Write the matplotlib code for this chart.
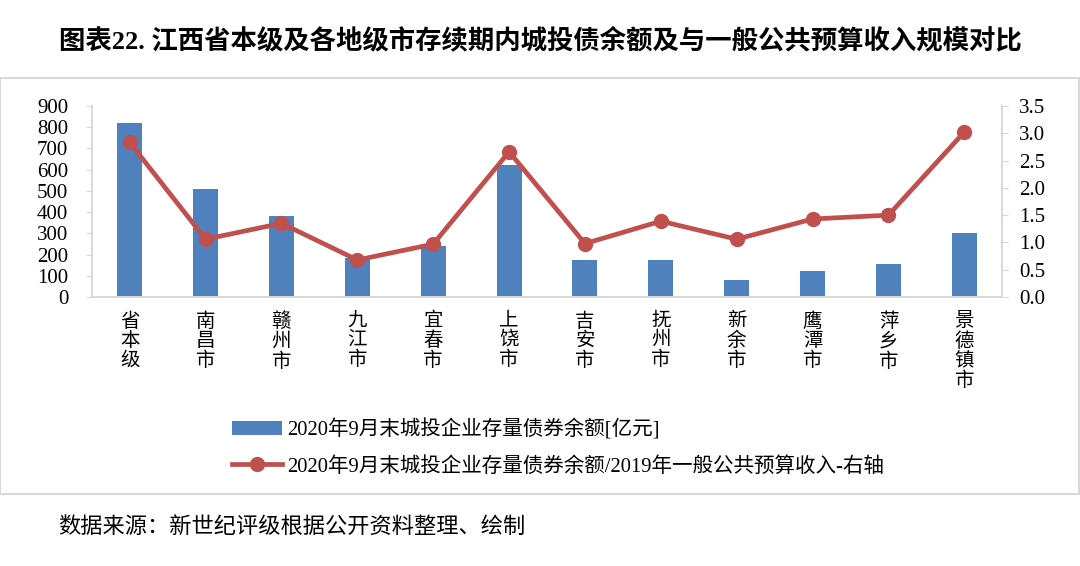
import matplotlib

matplotlib.use('Agg')
import matplotlib.pyplot as plt
from matplotlib.patches import Rectangle

plt.rcParams['font.family'] = ['Liberation Serif', 'Noto Sans CJK SC']

# data
CITIES = ['省本级', '南昌市', '赣州市', '九江市', '宜春市', '上饶市',
          '吉安市', '抚州市', '新余市', '鹰潭市', '萍乡市', '景德镇市']
BOND_BALANCE = [820, 510, 380, 185, 240, 620, 173, 176, 80, 124, 157, 300]
RATIO = [2.83, 1.06, 1.35, 0.68, 0.97, 2.66, 0.98, 1.39, 1.06, 1.43, 1.50, 3.02]
LEFT_TICKS = list(range(0, 901, 100))
RIGHT_TICKS = [0.0, 0.5, 1.0, 1.5, 2.0, 2.5, 3.0, 3.5]

BAR_LABEL = '2020年9月末城投企业存量债券余额[亿元]'
LINE_LABEL = '2020年9月末城投企业存量债券余额/2019年一般公共预算收入-右轴'
TITLE = '图表22. 江西省本级及各地级市存续期内城投债余额及与一般公共预算收入规模对比'
SOURCE = '数据来源：新世纪评级根据公开资料整理、绘制'

BLUE = '#4f81bd'
RED = '#c0504d'
GRID = '#d9d9d9'

fig = plt.figure(figsize=(10.8, 5.66), dpi=100)
ax = fig.add_axes([0.085, 0.475, 0.843, 0.338])
ax2 = ax.twinx()

x = list(range(len(CITIES)))
bars = ax.bar(x, BOND_BALANCE, width=0.33, color=BLUE, label=BAR_LABEL, zorder=2)
line, = ax2.plot(x, RATIO, color=RED, linewidth=3.4, marker='o', markersize=10,
                 label=LINE_LABEL, zorder=3)

ax.set_xlim(-0.5, len(CITIES) - 0.5)
ax.set_ylim(0, 900)
ax.set_yticks(LEFT_TICKS)
ax2.set_ylim(0, 3.5)
ax2.set_yticks(RIGHT_TICKS)
ax2.set_yticklabels([f'{v:.1f}' for v in RIGHT_TICKS])

ax.set_xticks(x)
ax.set_xticklabels(['\n'.join(c) for c in CITIES], fontsize=14,
                   linespacing=1.12, va='top')
ax.tick_params(axis='x', length=0, pad=11)
ax.tick_params(axis='y', labelsize=15, length=4, color=GRID, pad=13)
ax2.tick_params(axis='y', labelsize=15, length=4, color=GRID, pad=8)
ax2.tick_params(axis='x', length=0)

for a in (ax, ax2):
    a.spines['top'].set_visible(False)
    for s in ('left', 'right', 'bottom'):
        a.spines[s].set_color(GRID)
        a.spines[s].set_linewidth(1.2)

fig.legend(handles=[bars, line], labels=[BAR_LABEL, LINE_LABEL],
           loc='upper left', bbox_to_anchor=(232 / 1080, 1 - 419 / 566),
           frameon=False, borderpad=0, borderaxespad=0,
           fontsize=14.8, handlelength=2.45, handletextpad=0.25, labelspacing=0.8)

# outer frame around the chart
fig.patches.append(Rectangle((0.0, 1 - 494 / 566), 0.999, (494 - 78) / 566,
                             transform=fig.transFigure, fill=False,
                             edgecolor=GRID, linewidth=1.5))

fig.text(0.5, 1 - 40 / 566, TITLE, ha='center', va='center', fontsize=19,
         fontweight='bold')
fig.text(58 / 1080, 1 - 527 / 566, SOURCE, ha='left', va='center', fontsize=16)

fig.savefig('out.png', dpi=100)
